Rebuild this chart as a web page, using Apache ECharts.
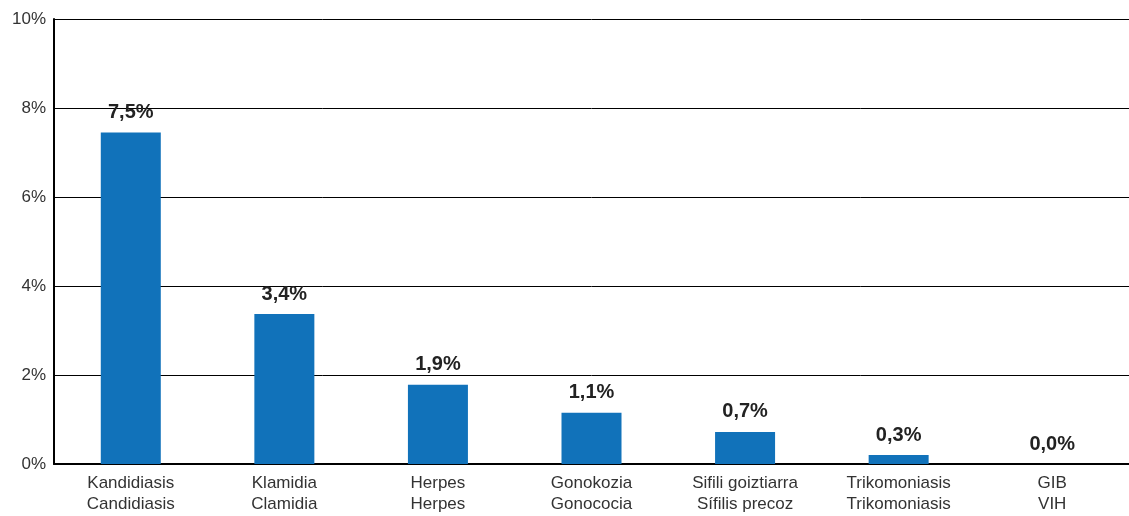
<!DOCTYPE html>
<html>
<head>
<meta charset="utf-8">
<script src="https://cdn.jsdelivr.net/npm/echarts@6/dist/echarts.min.js"></script>
<style>
  html, body { margin: 0; padding: 0; background: #fff; }
  #chart { width: 1129px; height: 516px; }
</style>
</head>
<body>
<div id="chart"></div>
<script>
// categories: euskara / castellano
const categories = [
  'Kandidiasis\nCandidiasis',
  'Klamidia\nClamidia',
  'Herpes\nHerpes',
  'Gonokozia\nGonococia',
  'Sifili goiztiarra\nSífilis precoz',
  'Trikomoniasis\nTrikomoniasis',
  'GIB\nVIH'
]
// bar heights (%)
const values = [7.45, 3.37, 1.78, 1.15, 0.72, 0.2, 0]
// printed labels
const valueLabels = ['7,5%', '3,4%', '1,9%', '1,1%', '0,7%', '0,3%', '0,0%']
const yTicks = [0, 2, 4, 6, 8, 10]

const chart = echarts.init(document.getElementById('chart'))

chart.setOption({
  animation: false,
  grid: { left: 54, right: 0, top: 19, bottom: 52, containLabel: false },
  xAxis: {
    type: 'category',
    data: categories,
    axisTick: { show: false },
    axisLine: { lineStyle: { color: '#000', width: 2 } },
    axisLabel: {
      color: '#333',
      fontSize: 17,
      fontFamily: 'Liberation Sans, Arial, sans-serif',
      lineHeight: 21,
      margin: 9
    }
  },
  yAxis: {
    type: 'value',
    min: yTicks[0],
    max: yTicks[yTicks.length - 1],
    interval: 2,
    axisLine: { show: true, lineStyle: { color: '#000', width: 2 } },
    axisTick: { show: false },
    splitLine: { lineStyle: { color: '#000', width: 1 } },
    axisLabel: {
      color: '#333',
      fontSize: 17,
      fontFamily: 'Liberation Sans, Arial, sans-serif',
      margin: 8,
      formatter: v => v + '%'
    }
  },
  series: [{
    type: 'bar',
    data: values,
    barWidth: 60,
    itemStyle: { color: '#1172BA' },
    label: {
      show: true,
      position: 'top',
      distance: 10,
      color: '#222',
      fontSize: 20,
      fontWeight: 'bold',
      fontFamily: 'Liberation Sans, Arial, sans-serif',
      formatter: p => valueLabels[p.dataIndex]
    }
  }]
})
</script>
</body>
</html>
